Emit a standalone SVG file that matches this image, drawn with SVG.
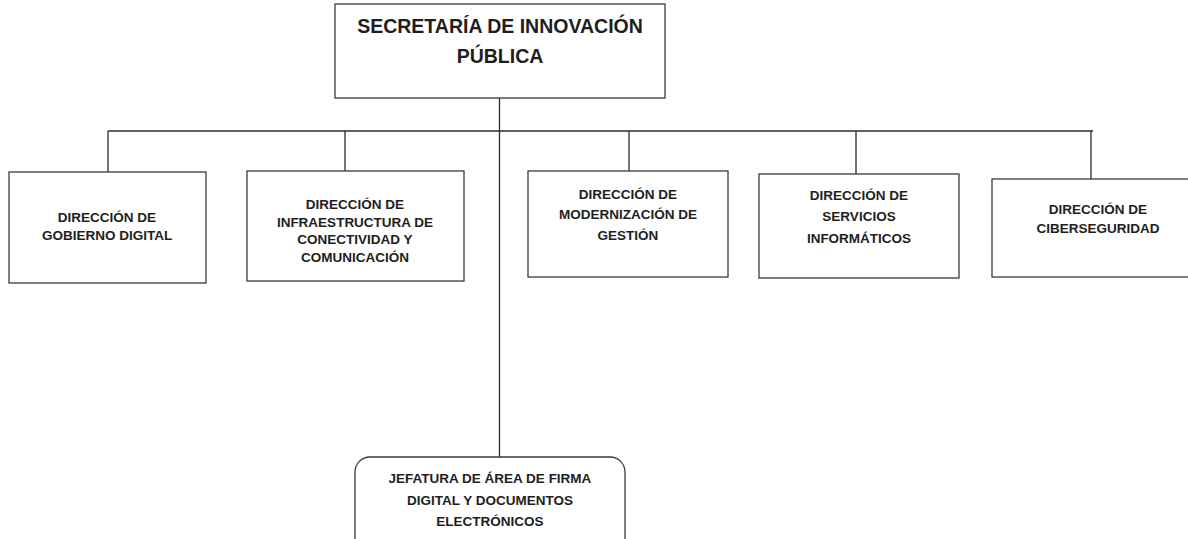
<svg xmlns="http://www.w3.org/2000/svg" width="1188" height="539" viewBox="0 0 1188 539">
<style>
.box{fill:#fff;stroke:#3a3a3a;stroke-width:1.3}
.ln{stroke:#2a2a2a;stroke-width:1.3;fill:none}
.t{font-family:"Liberation Sans",Arial,sans-serif;font-weight:bold;font-size:13.5px;fill:#1e1e1e;text-anchor:middle}
.tt{font-size:19.5px}
</style>
<rect width="1188" height="539" fill="#fff"/>
<g id="connectors">
<line class="ln" x1="499.5" y1="98" x2="499.5" y2="457"/>
<line class="ln" x1="108" y1="131" x2="1093" y2="131"/>
<line class="ln" x1="108" y1="131" x2="108" y2="172"/>
<line class="ln" x1="345" y1="131" x2="345" y2="171"/>
<line class="ln" x1="629" y1="131" x2="629" y2="171"/>
<line class="ln" x1="856" y1="131" x2="856" y2="174"/>
<line class="ln" x1="1091" y1="131" x2="1091" y2="179"/>
</g>
<g id="secretaria">
<rect class="box" x="335" y="4" width="330" height="94"/>
<text class="t tt" x="500" y="33">SECRETARÍA DE INNOVACIÓN</text>
<text class="t tt" x="500" y="63">PÚBLICA</text>
</g>
<g id="gobierno-digital">
<rect class="box" x="9" y="172" width="197" height="111"/>
<text class="t" x="107" y="222">DIRECCIÓN DE</text>
<text class="t" x="107" y="240">GOBIERNO DIGITAL</text>
</g>
<g id="infraestructura">
<rect class="box" x="247" y="171" width="217" height="110"/>
<text class="t" x="355" y="209">DIRECCIÓN DE</text>
<text class="t" x="355" y="226.5">INFRAESTRUCTURA DE</text>
<text class="t" x="355" y="244">CONECTIVIDAD Y</text>
<text class="t" x="355" y="261.5">COMUNICACIÓN</text>
</g>
<g id="modernizacion">
<rect class="box" x="528" y="171" width="200" height="106"/>
<text class="t" x="628" y="199">DIRECCIÓN DE</text>
<text class="t" x="628" y="219">MODERNIZACIÓN DE</text>
<text class="t" x="628" y="240">GESTIÓN</text>
</g>
<g id="servicios">
<rect class="box" x="759" y="174" width="200" height="104"/>
<text class="t" x="859" y="200">DIRECCIÓN DE</text>
<text class="t" x="859" y="221">SERVICIOS</text>
<text class="t" x="859" y="243">INFORMÁTICOS</text>
</g>
<g id="ciberseguridad">
<rect class="box" x="992" y="179" width="200" height="98"/>
<text class="t" x="1098" y="214">DIRECCIÓN DE</text>
<text class="t" x="1098" y="233">CIBERSEGURIDAD</text>
</g>
<g id="firma-digital">
<rect class="box" x="355" y="457" width="270" height="100" rx="15"/>
<text class="t" x="490" y="483">JEFATURA DE ÁREA DE FIRMA</text>
<text class="t" x="490" y="505">DIGITAL Y DOCUMENTOS</text>
<text class="t" x="490" y="526">ELECTRÓNICOS</text>
</g>
</svg>
